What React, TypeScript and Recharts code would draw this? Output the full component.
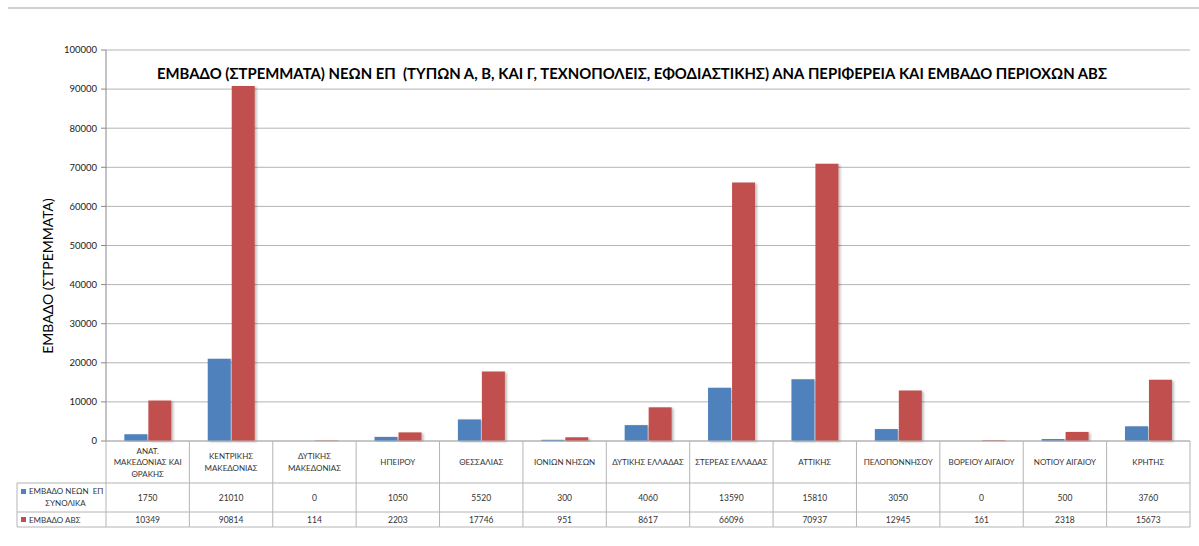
import { Bar, BarChart, CartesianGrid, XAxis, YAxis } from "recharts";

const categories = [
  "ΑΝΑΤ.\nΜΑΚΕΔΟΝΙΑΣ ΚΑΙ\nΘΡΑΚΗΣ",
  "ΚΕΝΤΡΙΚΗΣ\nΜΑΚΕΔΟΝΙΑΣ",
  "ΔΥΤΙΚΗΣ\nΜΑΚΕΔΟΝΙΑΣ",
  "ΗΠΕΙΡΟΥ",
  "ΘΕΣΣΑΛΙΑΣ",
  "ΙΟΝΙΩΝ ΝΗΣΩΝ",
  "ΔΥΤΙΚΗΣ ΕΛΛΑΔΑΣ",
  "ΣΤΕΡΕΑΣ ΕΛΛΑΔΑΣ",
  "ΑΤΤΙΚΗΣ",
  "ΠΕΛΟΠΟΝΝΗΣΟΥ",
  "ΒΟΡΕΙΟΥ ΑΙΓΑΙΟΥ",
  "ΝΟΤΙΟΥ ΑΙΓΑΙΟΥ",
  "ΚΡΗΤΗΣ",
];
const newEpArea = [1750, 21010, 0, 1050, 5520, 300, 4060, 13590, 15810, 3050, 0, 500, 3760];
const absArea = [10349, 90814, 114, 2203, 17746, 951, 8617, 66096, 70937, 12945, 161, 2318, 15673];
const yTicks = [0, 10000, 20000, 30000, 40000, 50000, 60000, 70000, 80000, 90000, 100000];

const seriesNames = ["ΕΜΒΑΔΟ ΝΕΩΝ  ΕΠ\nΣΥΝΟΛΙΚΑ", "ΕΜΒΑΔΟ ΑΒΣ"];
const title =
  "ΕΜΒΑΔΟ (ΣΤΡΕΜΜΑΤΑ) ΝΕΩΝ ΕΠ  (ΤΥΠΩΝ Α, Β, ΚΑΙ Γ, ΤΕΧΝΟΠΟΛΕΙΣ, ΕΦΟΔΙΑΣΤΙΚΗΣ) ΑΝΑ ΠΕΡΙΦΕΡΕΙΑ ΚΑΙ ΕΜΒΑΔΟ ΠΕΡΙΟΧΩΝ ΑΒΣ";
const yLabel = "ΕΜΒΑΔΟ (ΣΤΡΕΜΜΑΤΑ)";

const data = categories.map((name, i) => ({ name, newEp: newEpArea[i], abs: absArea[i] }));

const BLUE = "#4f81bd";
const RED = "#c0504d";
const GRID = "#b4b4b4";
const FONT = "Lato, 'Open Sans', sans-serif";

const W = 1199;
const H = 546;
const MARGIN = { top: 50, right: 9, bottom: 19, left: 0 };
const Y_AXIS_W = 106;
const ROW1 = 42; // category names row
const ROW2 = 29; // first series
const ROW3 = 15; // second series
const LEGEND_W = 89;
const colW = (W - MARGIN.left - Y_AXIS_W - MARGIN.right) / categories.length;

interface TickProps {
  x?: number;
  y?: number;
  payload?: { value: string; index: number };
}

function TableTick({ x = 0, y = 0, payload }: TickProps) {
  if (!payload) return null;
  const i = payload.index;
  const left = x - colW / 2;
  const right = x + colW / 2;
  const lines = String(payload.value).split("\n");
  const r1 = y + ROW1;
  const r2 = r1 + ROW2;
  const r3 = r2 + ROW3;
  const txt = {
    fontFamily: FONT,
    fontSize: 8,
    fill: "#333",
    textAnchor: "middle" as const,
    style: { whiteSpace: "pre" as const },
  };
  return (
    <g>
      <line x1={left} x2={right} y1={y} y2={y} stroke={GRID} />
      <line x1={left} x2={right} y1={r1} y2={r1} stroke={GRID} />
      <line x1={left} x2={right} y1={r2} y2={r2} stroke={GRID} />
      <line x1={left} x2={right} y1={r3} y2={r3} stroke={GRID} />
      <line x1={right} x2={right} y1={y} y2={r3} stroke={GRID} />
      {i === 0 && <line x1={left} x2={left} y1={y} y2={r3} stroke={GRID} />}
      {lines.map((ln, k) => (
        <text key={k} x={x} y={y + ROW1 / 2 + (k - (lines.length - 1) / 2) * 11.5 + 3} {...txt}>
          {ln}
        </text>
      ))}
      <text x={x} y={r1 + ROW2 / 2 + 3.5} {...txt} fontSize={8.5}>
        {newEpArea[i]}
      </text>
      <text x={x} y={r2 + ROW3 / 2 + 3.5} {...txt} fontSize={8.5}>
        {absArea[i]}
      </text>
      {i === 0 && (
        <g>
          <line x1={left - LEGEND_W} x2={left} y1={r1} y2={r1} stroke={GRID} />
          <line x1={left - LEGEND_W} x2={left} y1={r2} y2={r2} stroke={GRID} />
          <line x1={left - LEGEND_W} x2={left} y1={r3} y2={r3} stroke={GRID} />
          <line x1={left - LEGEND_W} x2={left - LEGEND_W} y1={r1} y2={r3} stroke={GRID} />
          <rect x={left - LEGEND_W + 4} y={r1 + 6} width={5} height={5} fill={BLUE} />
          <text x={left - LEGEND_W + 12} y={r1 + 11} {...txt} textAnchor="start">
            {seriesNames[0].split("\n")[0]}
          </text>
          <text x={left - LEGEND_W / 2 + 4} y={r1 + 23} {...txt}>
            {seriesNames[0].split("\n")[1]}
          </text>
          <rect x={left - LEGEND_W + 4} y={r2 + 5} width={5} height={5} fill={RED} />
          <text x={left - LEGEND_W + 12} y={r2 + 10.5} {...txt} textAnchor="start">
            {seriesNames[1]}
          </text>
        </g>
      )}
    </g>
  );
}

function YLabel() {
  return (
    <text
      x={47}
      y={276}
      transform="rotate(-90 47 276)"
      textAnchor="middle"
      dominantBaseline="central"
      fontFamily={FONT}
      fontSize={14}
      fill="#000"
    >
      {yLabel}
    </text>
  );
}

export default function App() {
  return (
    <div style={{ position: "absolute", left: 0, top: 0, width: W, height: H, background: "#fff" }}>
      <div style={{ position: "absolute", left: 8, top: 7, width: W - 8, height: 2, background: "#d0d0d0" }} />
      <BarChart
        width={W}
        height={H}
        data={data}
        margin={MARGIN}
        barGap={1}
        barCategoryGap="22%"
      >
        <defs>
          <filter id="bar-shadow" x="-20%" y="-5%" width="150%" height="110%">
            <feDropShadow dx="2" dy="1" stdDeviation="1.2" floodColor="#000" floodOpacity="0.25" />
          </filter>
        </defs>
        <CartesianGrid vertical={false} stroke={GRID} />
        <XAxis
          dataKey="name"
          height={ROW1 + ROW2 + ROW3}
          interval={0}
          axisLine={false}
          tickLine={false}
          tickSize={0}
          tickMargin={0}
          tick={<TableTick />}
        />
        <YAxis
          width={Y_AXIS_W}
          domain={[0, 100000]}
          ticks={yTicks}
          interval={0}
          axisLine={{ stroke: "#888" }}
          tickLine={{ stroke: "#888" }}
          tickSize={5}
          tickMargin={4}
          tick={{ fontFamily: FONT, fontSize: 9.5, fill: "#222" }}
          label={<YLabel />}
        />
        <Bar dataKey="newEp" fill={BLUE} isAnimationActive={false} filter="url(#bar-shadow)" />
        <Bar dataKey="abs" fill={RED} isAnimationActive={false} filter="url(#bar-shadow)" />
        <text
          x={632}
          y={79}
          textAnchor="middle"
          fontFamily={FONT}
          fontWeight="bold"
          fontSize={16}
          fill="#000"
          textLength={950}
          lengthAdjust="spacingAndGlyphs"
          style={{ whiteSpace: "pre" }}
        >
          {title}
        </text>
      </BarChart>
    </div>
  );
}
